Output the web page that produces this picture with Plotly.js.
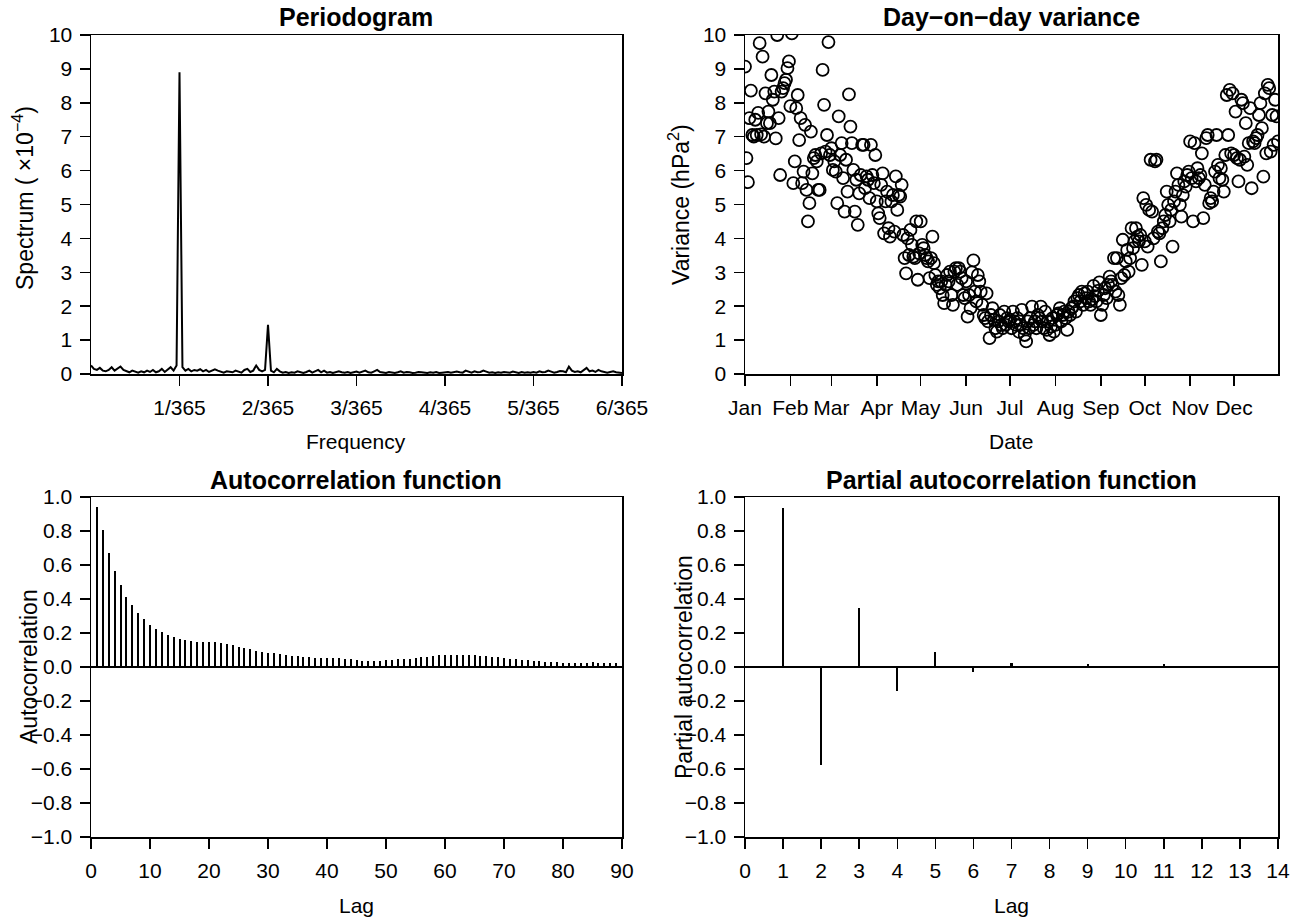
<!DOCTYPE html>
<html>
<head>
<meta charset="utf-8">
<script src="https://cdn.plot.ly/plotly-3.0.1.min.js"></script>
<style>html,body{margin:0;padding:0;background:#fff;}#chart{width:1304px;height:920px;}</style>
</head>
<body>
<div id="chart"></div>
<script>
// ---------- Periodogram (spectrum x 1e-4), frequency grid index k -> k/(30*365) ----------
const spectrum = [
0.25,0.15,0.12,0.18,0.10,0.08,0.12,0.20,0.10,0.15,0.22,0.12,0.08,0.05,0.10,0.06,0.04,0.08,0.05,0.10,
0.06,0.12,0.05,0.08,0.15,0.06,0.12,0.20,0.10,0.25,
8.90,
0.20,0.10,0.15,0.08,0.12,0.10,0.14,0.08,0.12,0.06,0.10,0.14,0.10,0.06,0.04,0.08,0.06,0.05,0.10,0.08,
0.04,0.12,0.15,0.06,0.10,0.25,0.12,0.08,0.12,
1.45,
0.10,0.05,0.15,0.08,0.04,0.06,0.03,0.05,0.04,0.08,0.05,0.03,0.06,0.10,0.04,0.08,0.12,0.05,0.10,0.04,
0.06,0.03,0.05,0.08,0.05,0.04,0.06,0.03,0.05,0.07,
0.04,0.06,0.10,0.05,0.04,0.08,0.12,0.06,0.04,0.03,0.06,0.05,0.03,0.05,0.08,0.04,0.06,0.05,0.03,0.04,
0.06,0.05,0.04,0.03,0.05,0.04,0.06,0.03,0.04,0.05,
0.06,0.04,0.05,0.07,0.05,0.04,0.10,0.06,0.04,0.08,0.05,0.06,0.10,0.07,0.04,0.05,0.03,0.05,0.04,0.06,
0.05,0.04,0.07,0.05,0.03,0.06,0.04,0.05,0.04,0.06,
0.04,0.08,0.05,0.06,0.10,0.07,0.04,0.06,0.09,0.08,0.05,0.22,0.10,0.06,0.08,0.05,0.12,0.18,0.08,0.10,
0.06,0.12,0.08,0.05,0.04,0.06,0.08,0.05,0.04,0.03
];
const freqTickIdx = [30,60,90,120,150,180];
const freqTickText = ["1/365","2/365","3/365","4/365","5/365","6/365"];

// ---------- Day-on-day variance, one value per day of year (1..365) ----------
const variance = [
// Jan
9.07,6.37,5.66,7.55,8.36,7.05,7.00,7.50,7.05,7.70,9.76,7.07,9.36,7.00,8.28,7.40,7.74,7.40,8.82,8.09,
8.33,6.95,10.0,7.55,5.87,8.33,8.43,8.58,8.68,9.02,9.22,
// Feb
7.90,10.05,5.63,6.27,7.84,8.23,6.90,7.55,5.63,5.97,7.35,5.43,4.50,5.04,7.15,5.92,6.37,6.46,6.27,5.43,
5.43,6.51,8.97,7.94,6.56,7.05,9.79,6.46,
// Mar
6.66,6.02,6.27,5.97,5.04,7.60,6.46,6.81,5.78,4.79,6.32,5.38,8.25,7.30,6.81,6.02,4.79,5.73,4.40,5.33,
5.87,6.76,6.76,5.48,5.83,5.73,5.19,6.76,5.87,5.63,6.46,
// Apr
5.09,4.74,4.60,5.58,5.92,4.15,5.09,5.38,4.30,4.05,5.09,5.28,4.20,5.83,4.84,5.28,5.23,5.58,4.10,3.42,
2.97,4.00,3.51,4.25,3.81,3.46,3.42,4.50,2.78,3.56,
// May
4.50,3.81,3.71,3.51,3.42,3.32,2.83,3.42,4.05,3.27,2.92,2.63,2.73,2.53,2.73,2.33,2.09,2.63,2.92,2.73,
3.02,2.33,2.04,3.02,3.12,2.63,3.12,3.02,2.83,2.33,2.24,
// Jun
2.73,1.69,2.33,1.94,3.00,3.35,2.43,2.14,2.92,2.73,2.43,2.04,1.74,1.65,2.38,1.55,1.06,1.74,1.94,1.60,
1.35,1.25,1.55,1.74,1.45,1.35,1.84,1.45,1.65,1.55,
// Jul
1.60,1.35,1.84,1.55,1.45,1.65,1.25,1.45,1.89,1.35,1.15,0.96,1.55,1.35,1.65,1.99,1.45,1.55,1.35,1.74,
1.65,1.99,1.55,1.35,1.84,1.30,1.55,1.15,1.40,1.65,1.25,
// Aug
1.45,1.74,1.79,1.94,1.55,1.74,1.84,1.65,1.30,1.84,1.74,1.94,1.99,2.14,1.84,2.24,2.33,2.14,2.43,2.04,
2.38,2.24,2.43,2.14,2.04,2.20,2.60,2.30,2.14,2.45,2.70,
// Sep
1.74,2.04,2.33,2.53,2.24,2.63,2.87,2.73,2.63,3.42,2.43,3.42,2.33,2.04,2.83,3.96,2.92,3.32,3.66,3.02,
3.42,4.30,3.71,3.91,4.30,4.05,3.91,4.10,3.22,5.19,
// Oct
3.91,4.99,3.76,4.84,6.32,4.79,4.00,6.27,6.32,4.20,4.15,3.32,4.30,4.50,4.69,5.38,4.99,4.50,4.84,3.76,
5.09,5.38,5.92,5.58,4.99,4.64,5.28,5.68,5.53,5.87,5.97,
// Nov
6.86,5.78,4.50,6.81,5.68,6.07,5.78,5.87,6.51,4.60,5.58,6.96,7.05,5.04,5.19,5.09,5.38,5.97,7.05,6.17,
5.78,6.07,5.73,5.38,6.46,8.23,7.05,8.38,6.51,8.28,
// Dec
6.46,7.74,6.37,5.68,6.32,8.09,7.99,6.41,7.40,6.17,6.81,7.84,5.48,6.86,6.81,6.96,7.05,7.64,7.99,7.25,
5.82,8.28,6.51,8.53,8.43,6.56,7.64,6.76,8.09,7.60,6.86
];
const monthStartDay = [1,32,60,91,121,152,182,213,244,274,305,335];
const monthLabels = ["Jan","Feb","Mar","Apr","May","Jun","Jul","Aug","Sep","Oct","Nov","Dec"];

// ---------- Autocorrelation function, lags 1..89 ----------
const acfLag = [];
const acfValue = [
0.940,0.804,0.673,0.566,0.481,0.414,0.362,0.319,0.281,0.250,
0.226,0.206,0.188,0.174,0.164,0.156,0.152,0.149,0.149,0.147,
0.145,0.141,0.135,0.127,0.119,0.111,0.103,0.095,0.087,0.083,
0.081,0.077,0.073,0.067,0.063,0.059,0.056,0.055,0.055,0.055,
0.055,0.054,0.050,0.046,0.042,0.038,0.036,0.036,0.038,0.040,
0.042,0.045,0.048,0.050,0.052,0.056,0.060,0.066,0.070,0.072,
0.072,0.072,0.070,0.070,0.068,0.066,0.062,0.060,0.056,0.052,
0.050,0.046,0.042,0.040,0.036,0.034,0.032,0.030,0.028,0.026,
0.024,0.024,0.026,0.026,0.028,0.026,0.026,0.025,0.024
];
for (let i = 0; i < acfValue.length; i++) acfLag.push(i + 1);

// ---------- Partial autocorrelation function, lags 1..13 ----------
const pacfLag = [1,2,3,4,5,6,7,8,9,10,11,12,13];
const pacfValue = [0.937,-0.576,0.348,-0.140,0.087,-0.030,0.024,-0.005,0.018,0.002,0.018,0.008,0.004];

// ---------- layout helpers ----------
const W = 1304, H = 920;
const px = x => x / W;
const py = y => 1 - y / H;
const FONT = "Liberation Sans, Arial, Helvetica, sans-serif";
const TICKSIZE = 21, LABELSIZE = 21, YLABELSIZE = 23, TITLESIZE = 25;

function axisBase(extra) {
  return Object.assign({
    showline: true, mirror: true, linecolor: "black", linewidth: 1.5,
    ticks: "outside", ticklen: 10, tickwidth: 1.5, tickcolor: "black",
    showgrid: false, zeroline: false,
    tickfont: {family: FONT, size: TICKSIZE, color: "black"},
    fixedrange: true
  }, extra);
}
function xAxis(extra) { return axisBase(Object.assign({ticklabelstandoff: 4}, extra)); }
function yAxis(extra) { return axisBase(Object.assign({ticklabelstandoff: 3}, extra)); }

const traces = [
  {type: "scatter", mode: "lines", y: spectrum, x0: 0, dx: 1,
   line: {color: "black", width: 2}, xaxis: "x", yaxis: "y", hoverinfo: "skip"},
  {type: "scatter", mode: "markers", y: variance, x0: 1, dx: 1,
   marker: {symbol: "circle-open", size: 12, color: "black", line: {width: 1.8, color: "black"}},
   xaxis: "x2", yaxis: "y2", cliponaxis: true, hoverinfo: "skip"},
  {type: "bar", x: acfLag, y: acfValue, width: 0.34, marker: {color: "black", line: {width: 0}},
   xaxis: "x3", yaxis: "y3", hoverinfo: "skip"},
  {type: "bar", x: pacfLag, y: pacfValue, width: 0.055, marker: {color: "black", line: {width: 0}},
   xaxis: "x4", yaxis: "y4", hoverinfo: "skip"}
];

const leftDom = [px(91), px(622)];
const rightDom = [px(745), px(1278)];
const topDom = [py(374), py(35)];
const botDom = [py(837), py(497)];

function ann(text, x, y, opts) {
  return Object.assign({text: text, x: px(x), y: py(y), xref: "paper", yref: "paper",
    showarrow: false, xanchor: "center", yanchor: "middle",
    font: {family: FONT, size: LABELSIZE, color: "black"}}, opts || {});
}
const bold = {family: FONT, size: TITLESIZE, color: "black", weight: "bold"};
const yl = {family: FONT, size: YLABELSIZE, color: "black"};

const layout = {
  width: W, height: H, margin: {l: 0, r: 0, t: 0, b: 0},
  paper_bgcolor: "white", plot_bgcolor: "white", showlegend: false,
  font: {family: FONT, color: "black"},
  xaxis: xAxis({domain: leftDom, anchor: "y", range: [0, 180], tickmode: "array",
    tickvals: freqTickIdx, ticktext: freqTickText}),
  yaxis: yAxis({domain: topDom, anchor: "x", range: [0, 10], dtick: 1, tick0: 0}),
  xaxis2: xAxis({domain: rightDom, anchor: "y2", range: [1, 365], tickmode: "array",
    tickvals: monthStartDay, ticktext: monthLabels}),
  yaxis2: yAxis({domain: topDom, anchor: "x2", range: [0, 10], dtick: 1, tick0: 0}),
  xaxis3: xAxis({domain: leftDom, anchor: "y3", range: [0, 90], dtick: 10, tick0: 0}),
  yaxis3: yAxis({domain: botDom, anchor: "x3", range: [-1, 1], dtick: 0.2, tick0: -1,
    tickformat: ".1f", zeroline: true, zerolinecolor: "black", zerolinewidth: 1.5}),
  xaxis4: xAxis({domain: rightDom, anchor: "y4", range: [0, 14], dtick: 1, tick0: 0}),
  yaxis4: yAxis({domain: botDom, anchor: "x4", range: [-1, 1], dtick: 0.2, tick0: -1,
    tickformat: ".1f", zeroline: true, zerolinecolor: "black", zerolinewidth: 1.5}),
  bargap: 0,
  annotations: [
    ann("<b>Periodogram</b>", 356, 17, {font: bold}),
    ann("<b>Day−on−day variance</b>", 1011, 17, {font: bold}),
    ann("<b>Autocorrelation function</b>", 356, 480, {font: bold}),
    ann("<b>Partial autocorrelation function</b>", 1011, 480, {font: bold}),
    ann("Frequency", 356, 441),
    ann("Date", 1011, 441),
    ann("Lag", 356, 905),
    ann("Lag", 1011, 905),
    ann("Spectrum ( ×10<sup>−4</sup>)", 23, 198, {textangle: -90, font: yl}),
    ann("Variance (hPa<sup>2</sup>)", 679, 205, {textangle: -90, font: yl}),
    ann("Autocorrelation", 29, 667, {textangle: -90, font: yl}),
    ann("Partial autocorrelation", 684, 667, {textangle: -90, font: yl})
  ]
};

Plotly.newPlot("chart", traces, layout, {staticPlot: true, displayModeBar: false});
</script>
</body>
</html>
